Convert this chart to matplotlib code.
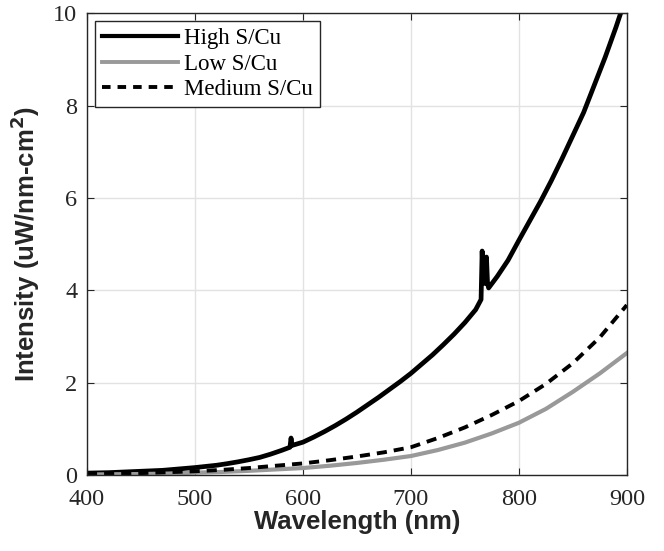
import numpy as np
import matplotlib.pyplot as plt
from matplotlib.lines import Line2D

# wavelength (nm) / intensity (uW/nm-cm^2) for each sample
wl_high = [400, 410, 420, 430, 440, 450, 460, 470, 480, 490, 500, 510, 520,
           530, 540, 550, 560, 570, 580, 588, 589, 590, 600, 610, 620, 630,
           640, 650, 660, 670, 680, 690, 700, 710, 720, 730, 740, 750, 760,
           765, 766, 767, 769, 770, 771, 772, 780, 790, 800, 810, 820, 830,
           840, 850, 860, 870, 880, 890, 900]
int_high = [0.04, 0.045, 0.05, 0.06, 0.07, 0.08, 0.09, 0.10, 0.12, 0.14, 0.16,
            0.185, 0.21, 0.245, 0.285, 0.33, 0.38, 0.45, 0.53, 0.60, 0.80,
            0.64, 0.71, 0.82, 0.94, 1.07, 1.21, 1.36, 1.52, 1.68, 1.85, 2.02,
            2.20, 2.40, 2.60, 2.82, 3.05, 3.30, 3.58, 3.80, 4.85, 4.15, 4.15,
            4.72, 4.15, 4.05, 4.30, 4.65, 5.08, 5.50, 5.92, 6.37, 6.85, 7.35,
            7.85, 8.45, 9.05, 9.70, 10.40]

wl_low = [400, 425, 450, 475, 500, 525, 550, 575, 600, 625, 650, 675, 700,
          725, 750, 775, 800, 825, 850, 875, 900]
int_low = [0.01, 0.015, 0.02, 0.03, 0.05, 0.065, 0.09, 0.12, 0.15, 0.20, 0.26,
           0.33, 0.41, 0.54, 0.70, 0.90, 1.13, 1.43, 1.80, 2.20, 2.64]

wl_med = [400, 425, 450, 475, 500, 525, 550, 575, 600, 625, 650, 675, 700,
          725, 750, 775, 800, 825, 850, 875, 900]
int_med = [0.02, 0.03, 0.04, 0.06, 0.08, 0.11, 0.15, 0.20, 0.25, 0.32, 0.40,
           0.49, 0.60, 0.80, 1.03, 1.30, 1.60, 1.97, 2.42, 2.98, 3.68]

fig = plt.figure(figsize=(6.64, 5.51), dpi=100)
ax = fig.add_axes([0.131, 0.138, 0.813, 0.838])

ax.plot(wl_high, int_high, color='black', lw=3.4)
ax.plot(wl_low, int_low, color='#999999', lw=3.0)
ax.plot(wl_med, int_med, color='black', lw=2.8, linestyle=(0, (2.6, 1.8)))

ax.set_xlim(400, 900)
ax.set_ylim(0, 10)
ax.set_xticks(np.arange(400, 901, 100))
ax.set_yticks(np.arange(0, 11, 2))

ax.grid(True, color='#e2e2e2', lw=1)
ax.set_axisbelow(True)
for s in ax.spines.values():
    s.set_color('#262626')
    s.set_linewidth(1)
ax.tick_params(direction='in', length=5, top=True, right=True, color='#262626',
               labelsize=17.5, labelcolor='#262626')
ax.tick_params(axis='x', pad=10)
ax.tick_params(axis='y', pad=7)
for lbl in ax.get_xticklabels() + ax.get_yticklabels():
    lbl.set_family('Liberation Serif')

ax.set_xlabel('Wavelength (nm)', family='Liberation Sans', weight='bold',
              fontsize=18.5, color='#262626', labelpad=0)
ax.set_ylabel('Intensity (uW/nm-cm$^\\mathbf{2}$)', family='Liberation Sans',
              weight='bold', fontsize=18.5, color='#262626', labelpad=8)

handles = [
    Line2D([], [], color='black', lw=3.0),
    Line2D([], [], color='#999999', lw=2.8),
    Line2D([], [], color='black', lw=2.8, linestyle=(0, (2.2, 1.8))),
]
leg = ax.legend(handles, ['High S/Cu', 'Low S/Cu', 'Medium S/Cu'],
                loc='upper left', prop={'family': 'Liberation Serif', 'size': 16.5},
                fancybox=False, framealpha=1, edgecolor='#262626',
                borderpad=0.3, labelspacing=0.2, handlelength=3.3,
                handletextpad=0.3, borderaxespad=0.35)
leg.get_frame().set_linewidth(1)

fig.savefig('out.png', dpi=100)
